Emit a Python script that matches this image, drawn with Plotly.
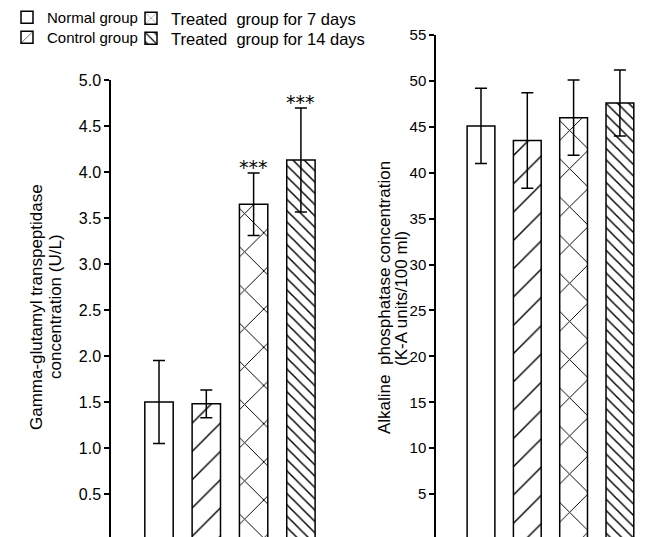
import plotly.graph_objects as go

groups = ["Normal group", "Control group", "Treated\u00a0 group for 7 days", "Treated\u00a0 group for 14 days"]
positions = [1, 2, 3, 4]
patterns = ["", "/", "x", "\\"]
pattern_sizes = [10, 20, 27, 8]
pattern_solidity = [0.1, 0.07, 0.07, 0.18]
legend_ids = ["legend", "legend2", "legend3", "legend4"]

ggt_mean = [1.50, 1.48, 3.65, 4.13]
ggt_err = [0.45, 0.15, 0.34, 0.565]
ggt_marks = ["", "", "***", "***"]

alp_mean = [45.1, 43.5, 46.0, 47.6]
alp_err = [4.1, 5.2, 4.1, 3.6]

left_ticks = [0.5, 1.0, 1.5, 2.0, 2.5, 3.0, 3.5, 4.0, 4.5, 5.0]
right_ticks = [5, 10, 15, 20, 25, 30, 35, 40, 45, 50, 55]

left_title = ["Gamma-glutamyl transpeptidase", "concentration (U/L)"]
right_title = ["Alkaline\u00a0 phosphatase concentration", "(K-A units/100 ml)"]

W, H = 645, 537
OFF = 8  # page body margin
FONT = "Liberation Sans"


def px(xp):
    return (xp - OFF) / W


def py(yp):
    return (H - (yp - OFF)) / H


fig = go.Figure()

for i, g in enumerate(groups):
    pat = dict(shape=patterns[i], fgcolor="black", bgcolor="white",
               size=pattern_sizes[i], solidity=pattern_solidity[i])
    fig.add_trace(go.Bar(
        x=[positions[i]], y=[ggt_mean[i]], width=0.6, name=g,
        marker=dict(color="white", line=dict(color="black", width=1.5), pattern=pat),
        error_y=dict(type="data", array=[ggt_err[i]], color="black", thickness=1.5, width=6),
        xaxis="x", yaxis="y", legend=legend_ids[i], legendgroup=g, showlegend=True,
    ))
    fig.add_trace(go.Bar(
        x=[positions[i]], y=[alp_mean[i]], width=0.6, name=g,
        marker=dict(color="white", line=dict(color="black", width=1.5), pattern=pat),
        error_y=dict(type="data", array=[alp_err[i]], color="black", thickness=1.5, width=6),
        xaxis="x2", yaxis="y2", legendgroup=g, showlegend=False,
    ))

annotations = []
for i, m in enumerate(ggt_marks):
    if m:
        annotations.append(dict(x=positions[i], y=ggt_mean[i] + ggt_err[i], xref="x", yref="y",
                                text=m, showarrow=False, yanchor="bottom", yshift=-7,
                                font=dict(size=19, color="black", family="DejaVu Sans")))

for txt, xp in zip(left_title, [36, 55]):
    annotations.append(dict(x=px(xp), y=py(307), xref="paper", yref="paper", text=txt,
                            textangle=-90, showarrow=False, xanchor="center", yanchor="middle",
                            font=dict(size=17, color="black", family=FONT)))
for txt, xp in zip(right_title, [384, 401]):
    annotations.append(dict(x=px(xp), y=py(298), xref="paper", yref="paper", text=txt,
                            textangle=-90, showarrow=False, xanchor="center", yanchor="middle",
                            font=dict(size=17, color="black", family=FONT)))

axis_common = dict(showline=True, linecolor="black", linewidth=1.5, ticks="outside",
                   ticklen=5, tickwidth=1.5, tickcolor="black", showgrid=False, zeroline=False,
                   automargin=False)

legend_common = dict(xanchor="left", yanchor="top", bgcolor="rgba(0,0,0,0)",
                     tracegroupgap=0, itemwidth=30)

fig.update_layout(
    template="none",
    width=W, height=H, margin=dict(l=0, r=0, t=0, b=0, autoexpand=False),
    paper_bgcolor="white", plot_bgcolor="white",
    barmode="overlay", showlegend=True,
    font=dict(family=FONT, color="black", size=16),
    xaxis=dict(domain=[px(111), px(111 + 4.615 * 47.3)], range=[-0.015, 4.6],
               visible=False, automargin=False),
    yaxis=dict(domain=[0, py(80)], range=[-(H + OFF - 540) / 92, 5.0], tickvals=left_ticks,
               tickformat=".1f", anchor="x",
               tickfont=dict(size=16, color="black", family=FONT), **axis_common),
    xaxis2=dict(domain=[px(436), 1], range=[0.028, 0.028 + (W - px(436) * W) / 46.3],
                visible=False, automargin=False),
    yaxis2=dict(domain=[0, py(35)], range=[-(H + OFF - 540) / 9.18, 55], tickvals=right_ticks,
                anchor="x2", tickfont=dict(size=15, color="black", family=FONT), **axis_common),
    legend=dict(x=px(7), y=py(1), font=dict(size=15, family=FONT), **legend_common),
    legend2=dict(x=px(7), y=py(21), font=dict(size=15, family=FONT), **legend_common),
    legend3=dict(x=px(131), y=py(1), font=dict(size=16.5, family=FONT), **legend_common),
    legend4=dict(x=px(131), y=py(21), font=dict(size=16.5, family=FONT), **legend_common),
    annotations=annotations,
)

fig.write_html("out.html")
